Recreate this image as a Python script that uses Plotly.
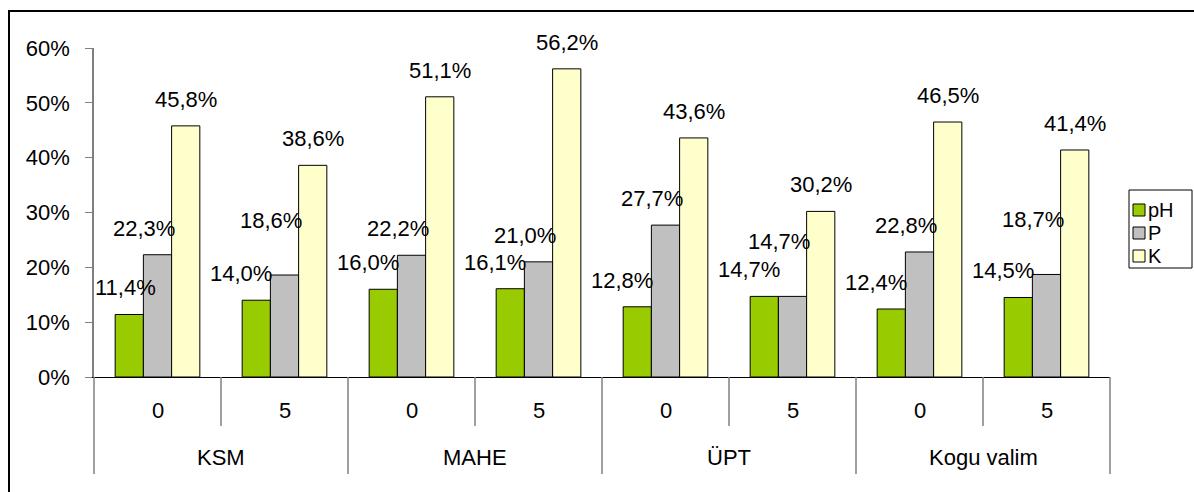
import plotly.graph_objects as go

# ---- data ----
groups = ["KSM", "MAHE", "ÜPT", "Kogu valim"]
levels = ["0", "5"]
series_names = ["pH", "P", "K"]
ph_vals = [11.4, 14.0, 16.0, 16.1, 12.8, 14.7, 12.4, 14.5]
p_vals = [22.3, 18.6, 22.2, 21.0, 27.7, 14.7, 22.8, 18.7]
k_vals = [45.8, 38.6, 51.1, 56.2, 43.6, 30.2, 46.5, 41.4]
y_ticks = [0, 10, 20, 30, 40, 50, 60]

# ---- styles ----
colors = ["#99CC00", "#C0C0C0", "#FFFFCC"]
FONT = "Liberation Sans, Arial, sans-serif"
FS = 22
W, H = 1194, 492
L, R, T, B = 94, 84, 48, 115
PW, PH = W - L - R, H - T - B
BARGAP = 1 / 3
label_xshift = [-15, -14, 0]
LABEL_GAP = 12

def px_x(px):
    return (px - L) / PW

def px_y(py):
    return (H - B - py) / PH

cats = [(g, l) for g in groups for l in levels]
n = len(cats)
xpos = list(range(n))
all_vals = [ph_vals, p_vals, k_vals]

fig = go.Figure()
for name, vals, col in zip(series_names, all_vals, colors):
    fig.add_trace(go.Bar(
        x=xpos, y=[v / 100 for v in vals], name=name,
        marker=dict(color=col, line=dict(color="black", width=1)),
        showlegend=False, hoverinfo="skip",
    ))

bw = (1 - BARGAP) / len(series_names)
px_per_pct = PH / 60.0
px_per_cat = PW / n
annotations = []
for s, vals in enumerate(all_vals):
    for i, v in enumerate(vals):
        text = f"{v:.1f}%".replace(".", ",")
        lift = LABEL_GAP
        # avoid overlap with the neighbouring label on its left when values are close
        if s > 0:
            prev = all_vals[s - 1][i]
            if abs(v - prev) * px_per_pct < 26:
                lift += 28
        xc = i + (s - 1) * bw
        shift = label_xshift[s]
        # keep the label inside the plot area (like the original)
        half_w = 0.5 * FS * (0.556 * 3 + 0.278 + 0.889)
        centre_px = (xc + 0.5) * px_per_cat + shift
        if centre_px - half_w < 0:
            shift += half_w - centre_px
        annotations.append(dict(
            x=xc, y=v / 100, xref="x", yref="y",
            text=text, showarrow=False,
            yanchor="bottom", xanchor="center", yshift=lift, xshift=shift,
            font=dict(family=FONT, size=FS, color="black"),
        ))

# category axis labels
for i, (g, l) in enumerate(cats):
    annotations.append(dict(
        x=i, y=0, xref="x", yref="y", text=l, showarrow=False,
        yshift=-33, font=dict(family=FONT, size=FS, color="black")))
for gi, g in enumerate(groups):
    annotations.append(dict(
        x=gi * len(levels) + (len(levels) - 1) / 2, y=0, xref="x", yref="y", text=g,
        showarrow=False, yshift=-80, font=dict(family=FONT, size=FS, color="black")))

shapes = []
# separators on the category axis
for b in range(n + 1):
    long = (b % len(levels) == 0)
    shapes.append(dict(
        type="line", xref="paper", yref="paper",
        x0=b / n, x1=b / n, y0=0, y1=px_y(474 if long else 426),
        line=dict(color="#808080", width=1.5)))

# chart border
shapes.append(dict(type="rect", xref="paper", yref="paper",
                   x0=px_x(9), x1=px_x(W + 20), y0=px_y(H + 20), y1=px_y(11),
                   line=dict(color="black", width=2)))

# legend box
lx0, lx1, ly0, ly1 = 1129, 1192, 190, 268
shapes.append(dict(type="rect", xref="paper", yref="paper",
                   x0=px_x(lx0), x1=px_x(lx1), y0=px_y(ly1), y1=px_y(ly0),
                   line=dict(color="black", width=1), fillcolor="white"))
for s, (name, col) in enumerate(zip(series_names, colors)):
    cy = 210 + s * 23
    shapes.append(dict(type="rect", xref="paper", yref="paper",
                       x0=px_x(1133), x1=px_x(1145), y0=px_y(cy + 6), y1=px_y(cy - 6),
                       line=dict(color="black", width=1), fillcolor=col))
    annotations.append(dict(x=px_x(1146), y=px_y(cy), xref="paper", yref="paper",
                            text=name, showarrow=False, xanchor="left", yanchor="middle",
                            font=dict(family=FONT, size=20, color="black")))

fig.update_layout(
    width=W, height=H,
    margin=dict(l=L, r=R, t=T, b=B, pad=0),
    paper_bgcolor="white", plot_bgcolor="white",
    barmode="group", bargap=BARGAP, bargroupgap=0,
    font=dict(family=FONT, size=FS, color="black"),
    xaxis=dict(range=[-0.5, n - 0.5], showticklabels=False, ticks="",
               showgrid=False, zeroline=False, showline=True,
               linecolor="black", linewidth=1),
    yaxis=dict(range=[0, 0.6], tickvals=[t / 100 for t in y_ticks],
               tickformat=".0%", ticks="outside", ticklen=7, tickcolor="#808080",
               ticklabelstandoff=11,
               showgrid=False, zeroline=False, showline=True, linecolor="#808080",
               linewidth=1.5, tickfont=dict(family=FONT, size=FS, color="black")),
    annotations=annotations, shapes=shapes,
)

fig.write_html("out.html")
